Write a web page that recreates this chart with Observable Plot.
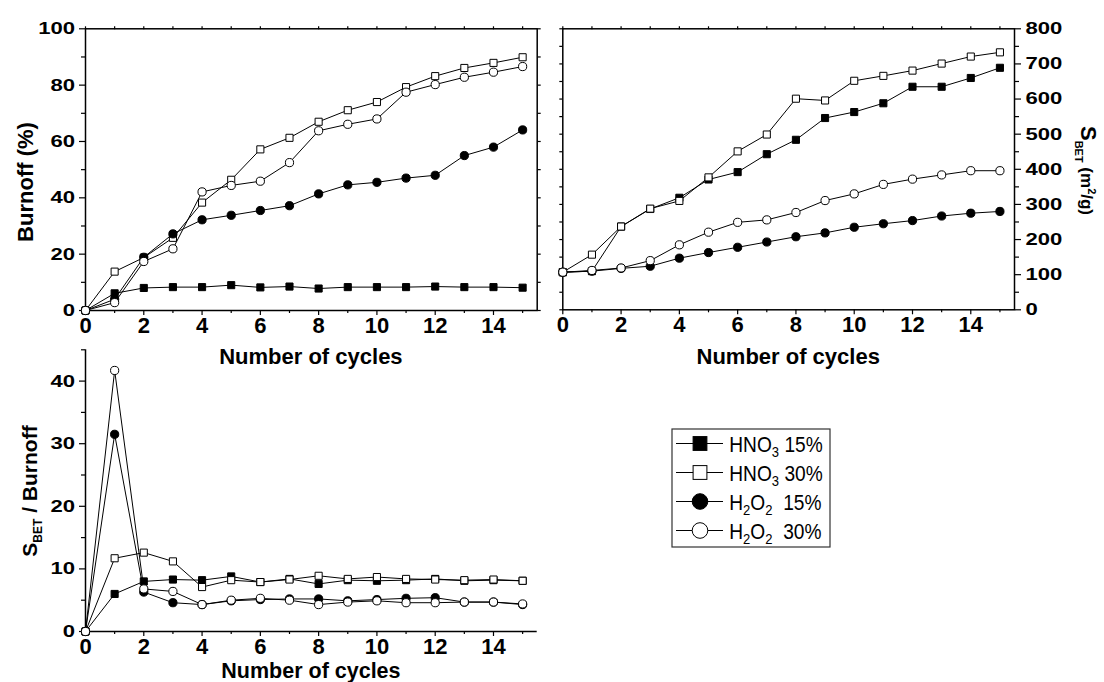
<!DOCTYPE html>
<html>
<head>
<meta charset="utf-8">
<script src="https://cdn.jsdelivr.net/npm/d3@7"></script>
<script src="https://cdn.jsdelivr.net/npm/@observablehq/plot@0.6"></script>
<style>
  body { margin: 0; background: #fff; }
  #fig { position: relative; width: 1104px; height: 682px; background: #fff; overflow: hidden; }
  #fig svg { position: absolute; left: 0; top: 0; }
</style>
</head>
<body>
<div id="fig"></div>
<script>
// Activation cycles (x axis shared by all three panels)
const cycles = [0, 1, 2, 3, 4, 5, 6, 7, 8, 9, 10, 11, 12, 13, 14, 15];

// Series: oxidant and concentration
const seriesNames = ["HNO3 15%", "HNO3 30%", "H2O2 15%", "H2O2 30%"];
const seriesSymbol = ["square", "square", "circle", "circle"];
const seriesFill = ["black", "white", "black", "white"];

// Burnoff (%)
const burnoffHNO3_15 = [0, 6.1, 8.0, 8.3, 8.3, 9.0, 8.2, 8.5, 7.8, 8.3, 8.3, 8.3, 8.5, 8.3, 8.3, 8.1];
const burnoffHNO3_30 = [0, 13.8, 18.8, 25.8, 38.3, 46.4, 57.2, 61.3, 67.0, 71.1, 74.0, 79.3, 83.2, 86.1, 87.9, 89.9];
const burnoffH2O2_15 = [0, 4.0, 18.9, 27.2, 32.2, 33.8, 35.5, 37.2, 41.4, 44.6, 45.5, 47.0, 48.0, 55.0, 58.0, 64.1];
const burnoffH2O2_30 = [0, 2.8, 17.4, 21.9, 42.1, 44.4, 45.9, 52.5, 63.8, 66.1, 68.0, 77.5, 80.2, 82.8, 84.6, 86.6];

// BET surface area (m2/g)
const sbetHNO3_15 = [107, 110, 237, 287, 319, 371, 392, 443, 484, 546, 563, 588, 635, 635, 660, 689];
const sbetHNO3_30 = [107, 157, 237, 288, 310, 377, 451, 499, 601, 596, 652, 666, 681, 701, 721, 733];
const sbetH2O2_15 = [107, 110, 118, 124, 147, 163, 178, 193, 208, 219, 235, 245, 254, 267, 275, 280];
const sbetH2O2_30 = [107, 112, 119, 140, 185, 221, 249, 256, 277, 311, 330, 357, 372, 384, 396, 396];

// S_BET / Burnoff
const ratioHNO3_15 = [0, 6.0, 8.0, 8.3, 8.2, 8.8, 7.9, 8.4, 7.6, 8.2, 8.1, 8.2, 8.4, 8.1, 8.2, 8.1];
const ratioHNO3_30 = [0, 11.7, 12.6, 11.2, 7.1, 8.2, 7.9, 8.3, 8.9, 8.4, 8.7, 8.4, 8.3, 8.2, 8.3, 8.1];
const ratioH2O2_15 = [0, 31.5, 6.3, 4.6, 4.3, 4.9, 5.1, 5.2, 5.2, 4.9, 5.1, 5.3, 5.4, 4.7, 4.7, 4.3];
const ratioH2O2_30 = [0, 41.7, 6.8, 6.4, 4.3, 5.0, 5.3, 5.0, 4.3, 4.7, 4.9, 4.6, 4.6, 4.7, 4.7, 4.4];

// Axis ticks
const xMajor = [0, 2, 4, 6, 8, 10, 12, 14];
const xMinor = [1, 3, 5, 7, 9, 11, 13, 15];
const burnoffMajor = [0, 20, 40, 60, 80, 100];
const burnoffMinor = [10, 30, 50, 70, 90];
const sbetMajor = [0, 100, 200, 300, 400, 500, 600, 700, 800];
const sbetMinor = [50, 150, 250, 350, 450, 550, 650, 750];
const ratioMajor = [0, 10, 20, 30, 40];
const ratioMinor = [5, 15, 25, 35, 45];

const W = 1104, H = 682;
const FONT = "'Liberation Sans', Arial, Helvetica, sans-serif";
const fig = document.getElementById("fig");

function rows(arrays) {
  return arrays.map((vals, s) => vals.map((v, i) => ({cycle: cycles[i], value: v, series: seriesNames[s]})));
}

function seriesMarks(table) {
  const marks = [];
  table.forEach((data, s) => {
    marks.push(Plot.line(data, {x: "cycle", y: "value", stroke: "black", strokeWidth: 1}));
    marks.push(Plot.dot(data, {
      x: "cycle", y: "value", symbol: seriesSymbol[s],
      r: seriesSymbol[s] === "square" ? 4 : 4.1,
      fill: seriesFill[s], stroke: "black", strokeWidth: 1
    }));
  });
  return marks;
}

const blank = () => "";
const tickFontX = {fontSize: 22, fontWeight: "bold", fontFamily: FONT};
const tickFontY = {fontSize: 17, fontWeight: "bold", fontFamily: FONT};

function bottomAxis() {
  return [
    Plot.axisX({ticks: xMajor, tickSize: 5, tickPadding: 1.8, ...tickFontX, label: null, strokeWidth: 1.2}),
    Plot.axisX({ticks: xMinor, tickSize: 3, tickFormat: blank, label: null, strokeWidth: 1.2})
  ];
}

function makePlot({box, yDomain, marks}) {
  const [l, r, t, b] = box;
  const svg = Plot.plot({
    width: W, height: H,
    marginLeft: l, marginRight: W - r, marginTop: t, marginBottom: H - b,
    style: "background: transparent; overflow: visible; max-width: none;",
    x: {domain: [0, 15.5]},
    y: {domain: yDomain},
    marks
  });
  fig.appendChild(svg);
  return svg;
}

// Stretch numeric y tick labels horizontally about their anchor point
function widenYTicks(svg, sx) {
  svg.querySelectorAll('g[aria-label="y-axis tick label"] text').forEach((t) => {
    const tr = t.getAttribute("transform");
    if (tr) t.setAttribute("transform", `${tr} scale(${sx},1)`);
    else {
      const x = +t.getAttribute("x") || 0, y = +t.getAttribute("y") || 0;
      t.setAttribute("x", 0); t.setAttribute("y", 0);
      t.setAttribute("transform", `translate(${x},${y}) scale(${sx},1)`);
    }
  });
}

// Axis title with optional sub/superscript parts
function title(svg, {x, y, rotate = 0, weight = "bold", parts}) {
  const t = d3.select(svg).append("text")
    .attr("transform", `translate(${x},${y}) rotate(${rotate})`)
    .attr("text-anchor", "middle")
    .attr("font-family", FONT)
    .attr("font-weight", weight)
    .attr("fill", "black")
    .style("white-space", "pre");
  for (const p of parts) {
    const ts = t.append("tspan").attr("font-size", p.size).text(p.text);
    if (p.dy) ts.attr("dy", p.dy);
  }
  return t;
}

// Panel 1: Burnoff
const p1 = makePlot({
  box: [85, 536.7, 28.3, 310],
  yDomain: [0, 100],
  marks: [
    Plot.frame({stroke: "black", strokeWidth: 1.5}),
    ...bottomAxis(),
    Plot.axisX({anchor: "top", ticks: cycles, tickSize: 3, tickFormat: blank, label: null, strokeWidth: 1.2}),
    Plot.axisY({ticks: burnoffMajor, tickSize: 6, tickPadding: 4.5, ...tickFontY, label: null, strokeWidth: 1.2}),
    Plot.axisY({ticks: burnoffMinor, tickSize: 4, tickFormat: blank, label: null, strokeWidth: 1.2}),
    Plot.axisY({anchor: "right", ticks: [...burnoffMajor, ...burnoffMinor], tickSize: 3, tickFormat: blank, label: null, strokeWidth: 1.2}),
    ...seriesMarks(rows([burnoffHNO3_15, burnoffHNO3_30, burnoffH2O2_15, burnoffH2O2_30]))
  ]
});
widenYTicks(p1, 1.3);
title(p1, {x: 33, y: 182, rotate: -90, parts: [{text: "Burnoff (%)", size: 22}]});
title(p1, {x: 310.9, y: 364.3, parts: [{text: "Number of cycles", size: 22}]});

// Panel 2: BET surface area, right-hand axis
const p2 = makePlot({
  box: [562.3, 1014, 28.3, 309.3],
  yDomain: [0, 800],
  marks: [
    Plot.frame({stroke: "black", strokeWidth: 1.5}),
    ...bottomAxis(),
    Plot.axisX({anchor: "top", ticks: cycles, tickSize: 3, tickFormat: blank, label: null, strokeWidth: 1.2}),
    Plot.axisY({anchor: "left", ticks: [...sbetMajor, ...sbetMinor], tickSize: 3, tickFormat: blank, label: null, strokeWidth: 1.2}),
    Plot.axisY({anchor: "right", ticks: sbetMajor, tickSize: 6, tickPadding: 5, ...tickFontY, label: null, strokeWidth: 1.2}),
    Plot.axisY({anchor: "right", ticks: sbetMinor, tickSize: 4, tickFormat: blank, label: null, strokeWidth: 1.2}),
    ...seriesMarks(rows([sbetHNO3_15, sbetHNO3_30, sbetH2O2_15, sbetH2O2_30]))
  ]
});
widenYTicks(p2, 1.3);
title(p2, {x: 788.2, y: 364.3, parts: [{text: "Number of cycles", size: 22}]});
title(p2, {x: 1081, y: 170.5, rotate: 90, parts: [
  {text: "S", size: 22},
  {text: "BET", size: 11, dy: 6},
  {text: " (m", size: 17, dy: -6},
  {text: "2", size: 11, dy: -7},
  {text: "/g)", size: 17, dy: 7}
]});

// Panel 3: S_BET / Burnoff
const p3 = makePlot({
  box: [85, 536.7, 349.3, 631],
  yDomain: [0, 45],
  marks: [
    Plot.ruleX([0], {stroke: "black", strokeWidth: 1.5}),
    Plot.ruleY([0], {stroke: "black", strokeWidth: 1.5}),
    ...bottomAxis(),
    Plot.axisY({ticks: ratioMajor, tickSize: 6, tickPadding: 4.5, ...tickFontY, label: null, strokeWidth: 1.2}),
    Plot.axisY({ticks: ratioMinor, tickSize: 4, tickFormat: blank, label: null, strokeWidth: 1.2}),
    ...seriesMarks(rows([ratioHNO3_15, ratioHNO3_30, ratioH2O2_15, ratioH2O2_30]))
  ]
});
widenYTicks(p3, 1.3);
title(p3, {x: 310.9, y: 677.5, parts: [{text: "Number of cycles", size: 21.5}]});
title(p3, {x: 37, y: 491, rotate: -90, parts: [
  {text: "S", size: 21},
  {text: "BET", size: 12, dy: 5},
  {text: " / Burnoff", size: 21, dy: -5}
]});

// Legend
const legendLabels = [
  [{t: "HNO", s: 22}, {t: "3", s: 15, dy: 5.5}, {t: " 15%", s: 22, dy: -5.5}],
  [{t: "HNO", s: 22}, {t: "3", s: 15, dy: 5.5}, {t: " 30%", s: 22, dy: -5.5}],
  [{t: "H", s: 22}, {t: "2", s: 15, dy: 5.5}, {t: "O", s: 22, dy: -5.5}, {t: "2", s: 15, dy: 5.5}, {t: "  15%", s: 22, dy: -5.5}],
  [{t: "H", s: 22}, {t: "2", s: 15, dy: 5.5}, {t: "O", s: 22, dy: -5.5}, {t: "2", s: 15, dy: 5.5}, {t: "  30%", s: 22, dy: -5.5}]
];
const lg = d3.select(p3).append("g").attr("aria-label", "legend");
lg.append("rect").attr("x", 672).attr("y", 429).attr("width", 158).attr("height", 118)
  .attr("fill", "white").attr("stroke", "#333").attr("stroke-width", 1.2);
seriesNames.forEach((name, i) => {
  const base = 451.5 + 29 * i, cy = base - 8;
  lg.append("line").attr("x1", 676).attr("x2", 723).attr("y1", cy).attr("y2", cy)
    .attr("stroke", "black").attr("stroke-width", 1);
  if (seriesSymbol[i] === "square") {
    lg.append("rect").attr("x", 700 - 6.9).attr("y", cy - 6.9).attr("width", 13.8).attr("height", 13.8)
      .attr("fill", seriesFill[i]).attr("stroke", "black").attr("stroke-width", 1);
  } else {
    lg.append("circle").attr("cx", 700).attr("cy", cy).attr("r", 7.8)
      .attr("fill", seriesFill[i]).attr("stroke", "black").attr("stroke-width", 1);
  }
  const t = lg.append("text")
    .attr("transform", `translate(729.3,${base}) scale(0.87,1)`)
    .attr("text-anchor", "start")
    .attr("font-family", FONT).attr("fill", "black").style("white-space", "pre");
  for (const p of legendLabels[i]) {
    const ts = t.append("tspan").attr("font-size", p.s).text(p.t);
    if (p.dy) ts.attr("dy", p.dy);
  }
});
</script>
</body>
</html>
